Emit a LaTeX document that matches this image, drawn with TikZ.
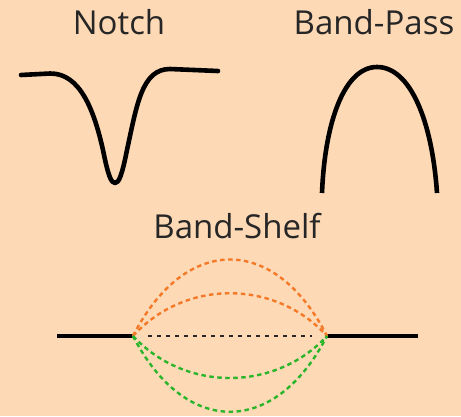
\documentclass[tikz,border=0pt]{standalone}
\usepackage{fontspec}
\setmainfont{Open Sans}
\definecolor{bgpeach}{HTML}{FDD9B5}
\definecolor{shelforange}{HTML}{F47A2A}
\definecolor{shelfgreen}{HTML}{2AB52A}
\begin{document}
\begin{tikzpicture}[x=1pt,y=-1pt,
  title/.style={font=\fontsize{33}{36}\selectfont, anchor=base, inner sep=0pt, text=black!85},
  curve/.style={line width=4.6pt, line cap=round, line join=round},
  flat/.style={line width=4pt},
  shelfdash/.style={line width=2.4pt, dash pattern=on 4.5pt off 3.5pt}]
\fill[bgpeach] (0,0) rectangle (461,416);
\useasboundingbox (0,0) rectangle (461,416);
\node[title] (notch) at (119,34) {Notch};
\node[title] (bandpass) at (374,34) {Band-Pass};
\node[title] (bandshelf) at (237,238) {Band-Shelf};
% Notch
\draw[curve] (21,75) -- (50,73.5) .. controls (80,73) and (94,110) .. (103,150)
  .. controls (108,175) and (111,183) .. (115,183)
  .. controls (119,183) and (122,175) .. (127,150)
  .. controls (137,104) and (142,69) .. (170,69) -- (218,71);
% Band-pass
\draw[curve, line cap=butt] (322,193) .. controls (325,120) and (345,67) .. (377,67)
  .. controls (410,67) and (432,120) .. (437,193);
% Band-shelf
\coordinate (L) at (133,336);
\coordinate (R) at (327,336);
\coordinate (Ld) at (148,336);
\coordinate (Rd) at (312,336);
\coordinate (Lend) at (57,336);
\coordinate (Rend) at (418,336);
\draw[flat] (Lend) -- (L);
\draw[flat] (R) -- (Rend);
\draw[shelfdash, black!85, dash pattern=on 4pt off 5pt] (Ld) -- (Rd);
\draw[shelfdash, shelforange] (L) .. controls (185,234) and (275,234) .. (R);
\draw[shelfdash, shelforange] (L) .. controls (185,279) and (275,279) .. (R);
\draw[shelfdash, shelfgreen] (L) .. controls (185,392) and (275,392) .. (R);
\draw[shelfdash, shelfgreen] (L) .. controls (185,437) and (275,437) .. (R);
\end{tikzpicture}
\end{document}
